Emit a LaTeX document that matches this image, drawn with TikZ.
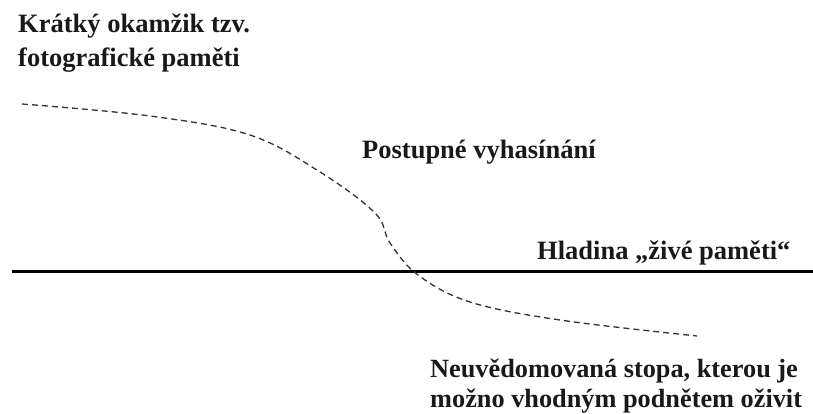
\documentclass[tikz,border=0pt]{standalone}
\usepackage{fontspec}
\setmainfont{Liberation Serif}
\usetikzlibrary{calc}
\definecolor{TextClr}{rgb}{0.1,0.1,0.1}
\tikzset{
  label text/.style={anchor=base west,inner sep=0pt,align=left,text=TextClr,
    font=\bfseries\fontsize{26.5}{34}\selectfont},
  trace line/.style={line width=1.3pt,dash pattern=on 6pt off 4pt,color=black!80},
  level line/.style={line width=3pt,color=black}
}

\begin{document}
\begin{tikzpicture}[x=1pt,y=-1pt]
\useasboundingbox (0,0) rectangle (813,414);

\coordinate (LvlW) at (12,271);
\coordinate (LvlE) at (813,271);

% multi-line nodes sit on the baseline of their last line
\node[label text] (flash) at (18,67) {Krátký okamžik tzv.\\fotografické paměti};
\node[label text] (fade) at (362,159) {Postupné vyhasínání};
\node[label text] (level) at (537,259) {Hladina „živé paměti“};
\node[label text,font=\bfseries\fontsize{26.3}{30}\selectfont] (trace) at (430,407.5)
  {Neuvědomovaná stopa, kterou je\\možno vhodným podnětem oživit};

\draw[level line] (LvlW) -- (LvlE);

\draw[trace line] plot[smooth,tension=0.6] coordinates
  {(22,104) (150,116) (250,135) (320,172) (375,213) (390,243) (418,275)
   (470,302) (560,320) (697,336)};

\end{tikzpicture}
\end{document}
